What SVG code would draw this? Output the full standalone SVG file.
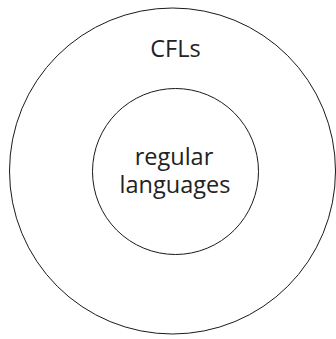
<svg xmlns="http://www.w3.org/2000/svg" width="336" height="339" viewBox="0 0 336 339">
  <style>
    .ring { fill: none; stroke: #1a1a1a; stroke-width: 1; }
    .label { font-family: "Open Sans", Lato, sans-serif; font-size: 23.5px; fill: #222; text-anchor: middle; }
  </style>
  <rect width="336" height="339" fill="#ffffff"/>
  <g id="cfls">
    <circle class="ring" cx="172.5" cy="171" r="163"/>
    <text class="label" x="175.5" y="56.5">CFLs</text>
  </g>
  <g id="regular-languages">
    <circle class="ring" cx="175.5" cy="171.5" r="83"/>
    <text class="label"><tspan x="174" y="165">regular</tspan><tspan x="175" y="193">languages</tspan></text>
  </g>
  <g id="connectors"></g>
</svg>
